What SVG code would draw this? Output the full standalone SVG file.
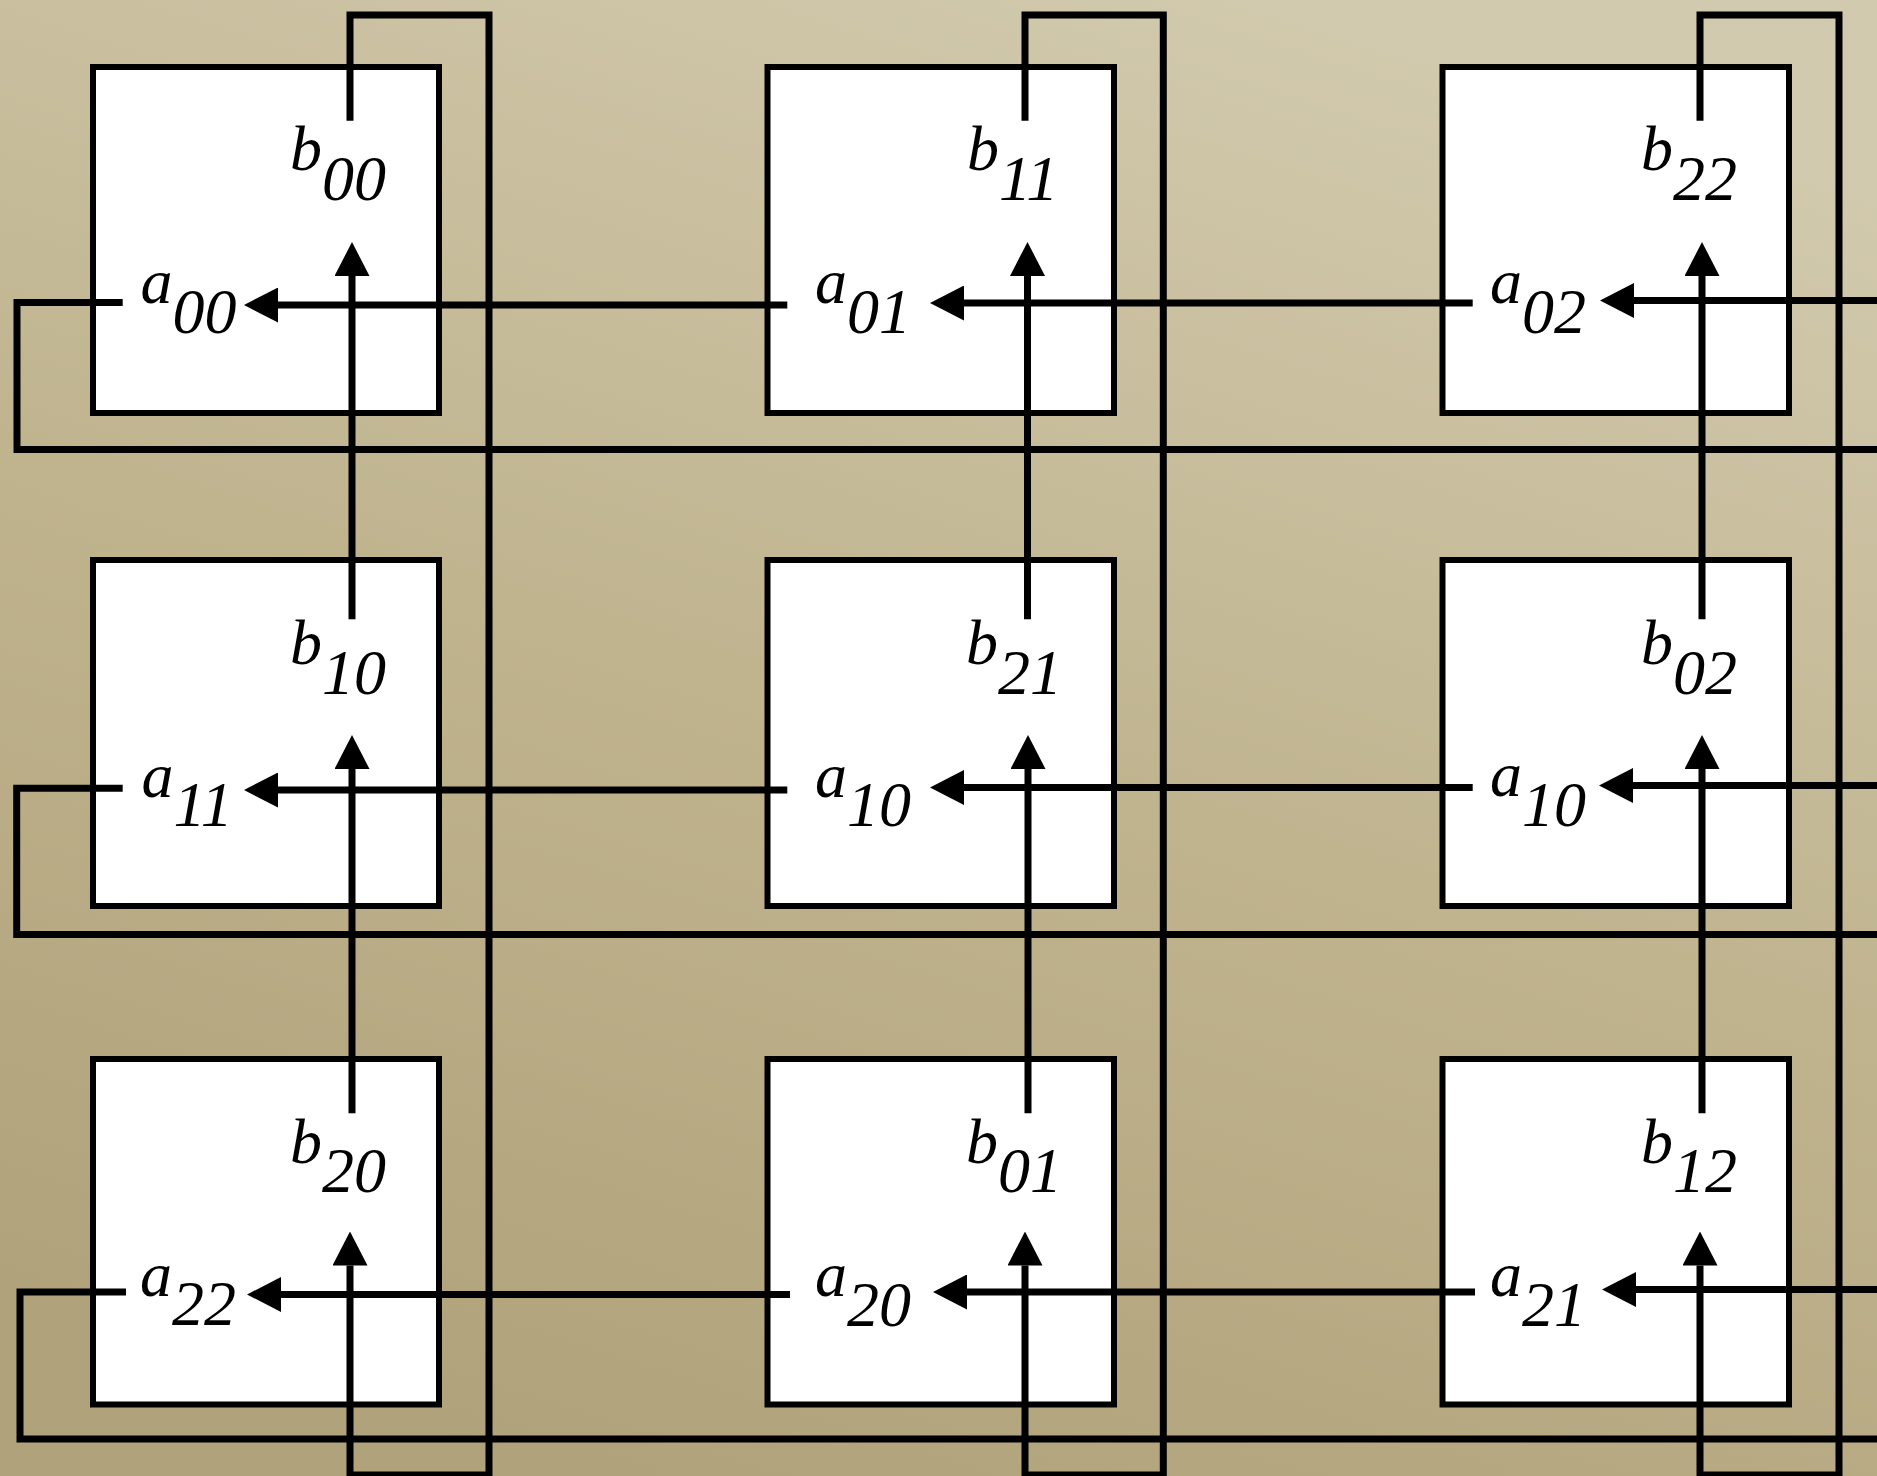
<svg xmlns="http://www.w3.org/2000/svg" width="1877" height="1476" viewBox="0 0 1877 1476">
<defs>
<linearGradient id="bg" x1="0.7" y1="0" x2="0.3" y2="1">
<stop offset="0" stop-color="#D2CAAE"/>
<stop offset="0.5" stop-color="#C0B48F"/>
<stop offset="1" stop-color="#B0A27A"/>
</linearGradient>
<marker id="ah" viewBox="0 0 34 35" refX="0" refY="17.5" markerWidth="34" markerHeight="35" markerUnits="userSpaceOnUse" orient="auto">
<path d="M0,0 L34,17.5 L0,35 Z" fill="#000"/>
</marker>
</defs>
<style>
.box{fill:#fff;stroke:#000;stroke-width:6}
.lbl{font-family:"Liberation Serif","Times New Roman",serif;font-style:italic;font-size:64px;fill:#000}
.c{fill:none;stroke:#000;stroke-width:7;stroke-linejoin:miter;stroke-linecap:butt}
.arr{marker-end:url(#ah)}
</style>
<rect x="0" y="0" width="1877" height="1476" fill="url(#bg)"/>

<g id="node-0-0"><rect class="box" x="93" y="67" width="346" height="346"/>
<text class="lbl" x="290" y="170">b<tspan dy="29.5">00</tspan></text>
<text class="lbl" x="140.5" y="303">a<tspan dy="29.5">00</tspan></text></g>
<g id="node-0-1"><rect class="box" x="767.5" y="67" width="346.5" height="346"/>
<text class="lbl" x="967" y="170">b<tspan dy="29.5">11</tspan></text>
<text class="lbl" x="815" y="303">a<tspan dy="29.5">01</tspan></text></g>
<g id="node-0-2"><rect class="box" x="1442.5" y="67" width="346.5" height="346"/>
<text class="lbl" x="1641" y="170">b<tspan dy="29.5">22</tspan></text>
<text class="lbl" x="1490" y="303">a<tspan dy="29.5">02</tspan></text></g>

<g id="node-1-0"><rect class="box" x="93" y="560" width="346" height="346"/>
<text class="lbl" x="290" y="664">b<tspan dy="29.5">10</tspan></text>
<text class="lbl" x="141.5" y="796.5">a<tspan dy="29.5">11</tspan></text></g>
<g id="node-1-1"><rect class="box" x="767.5" y="560" width="346.5" height="346"/>
<text class="lbl" x="966" y="664">b<tspan dy="29.5">21</tspan></text>
<text class="lbl" x="815" y="796.5">a<tspan dy="29.5">10</tspan></text></g>
<g id="node-1-2"><rect class="box" x="1442.5" y="560" width="346.5" height="346"/>
<text class="lbl" x="1641" y="664">b<tspan dy="29.5">02</tspan></text>
<text class="lbl" x="1490" y="796">a<tspan dy="29.5">10</tspan></text></g>

<g id="node-2-0"><rect class="box" x="93" y="1059" width="346" height="345.5"/>
<text class="lbl" x="290" y="1162.5">b<tspan dy="29.5">20</tspan></text>
<text class="lbl" x="140" y="1295.5">a<tspan dy="29.5">22</tspan></text></g>
<g id="node-2-1"><rect class="box" x="767.5" y="1059" width="346.5" height="345.5"/>
<text class="lbl" x="966" y="1162.5">b<tspan dy="29.5">01</tspan></text>
<text class="lbl" x="815" y="1296">a<tspan dy="29.5">20</tspan></text></g>
<g id="node-2-2"><rect class="box" x="1442.5" y="1059" width="346.5" height="345.5"/>
<text class="lbl" x="1641" y="1162.5">b<tspan dy="29.5">12</tspan></text>
<text class="lbl" x="1490" y="1296">a<tspan dy="29.5">21</tspan></text></g>

<g id="connectors">
<path class="c arr" d="M787.3,305 H278"/>
<path class="c arr" d="M1472.7,303 H964"/>
<path class="c arr" d="M1877,300.5 H1634"/>
<path class="c" d="M122.7,302.5 H17 V449.5 H1877"/>
<path class="c arr" d="M787.3,790 H278"/>
<path class="c arr" d="M1472.7,787.5 H964"/>
<path class="c arr" d="M1877,785.5 H1633"/>
<path class="c" d="M122.7,788.3 H16.7 V934.5 H1877"/>
<path class="c arr" d="M790,1294.5 H281"/>
<path class="c arr" d="M1475,1292 H967"/>
<path class="c arr" d="M1877,1289.5 H1636"/>
<path class="c" d="M126,1292 H20 V1439 H1877"/>
<path class="c arr" d="M352,619.3 V276"/>
<path class="c arr" d="M352,1113.3 V769"/>
<path class="c arr" d="M350,120.7 V15 H489 V1475 H350 V1265.5"/>
<path class="c arr" d="M1027.5,619.3 V276"/>
<path class="c arr" d="M1028,1113.3 V769"/>
<path class="c arr" d="M1025,120.7 V15 H1163.3 V1475 H1025 V1265.5"/>
<path class="c arr" d="M1702,619.3 V276"/>
<path class="c arr" d="M1702,1113.3 V769"/>
<path class="c arr" d="M1700,120.7 V15 H1839 V1475 H1700 V1265.5"/>
</g>
</svg>
